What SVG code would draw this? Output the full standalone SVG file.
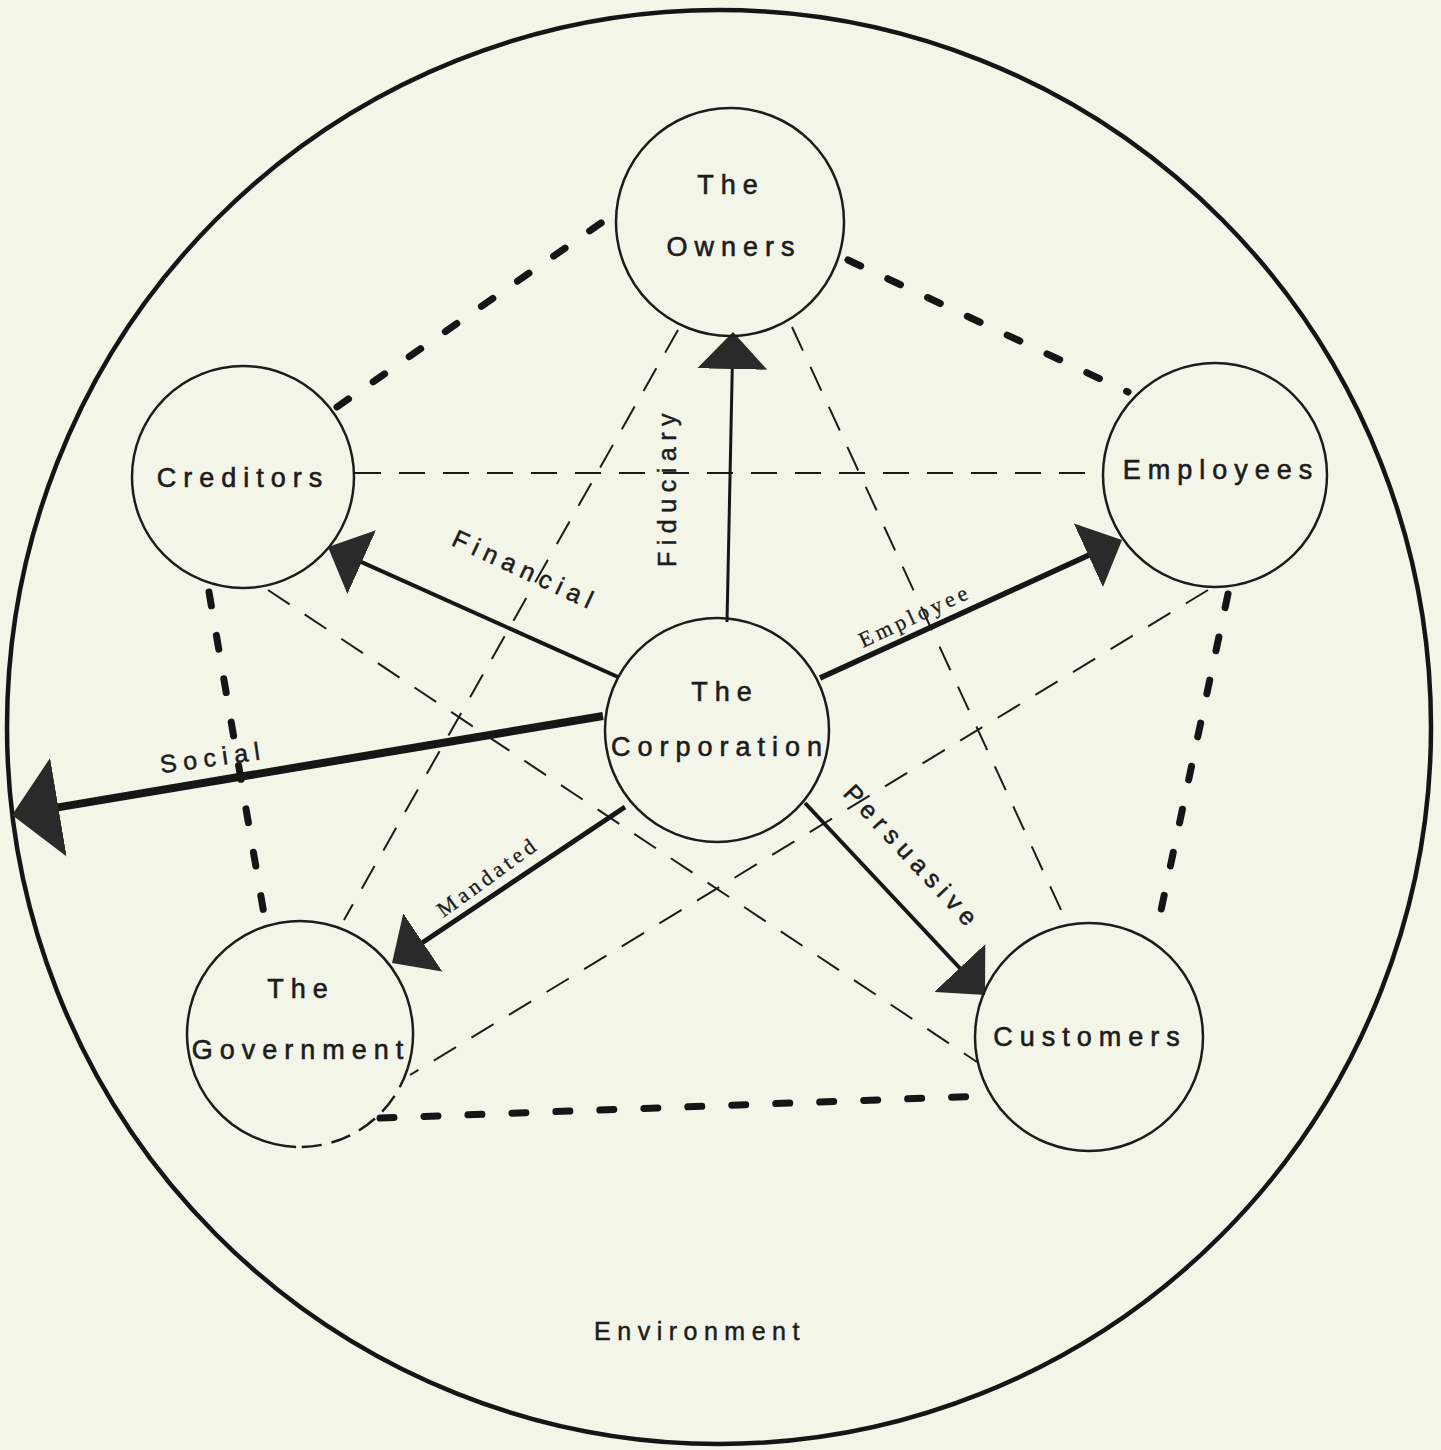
<svg xmlns="http://www.w3.org/2000/svg" width="1441" height="1450" viewBox="0 0 1441 1450">
<style>
.bg{fill:#f3f5e9}
.env{fill:none;stroke:#151515;stroke-width:4.5}
.node{fill:none;stroke:#1c1c1c;stroke-width:2.5}
.lbl{font-family:"Liberation Sans",Arial,sans-serif;font-size:27px;letter-spacing:7px;fill:#1c1c1c;stroke:#1c1c1c;stroke-width:0.6;text-anchor:middle}
.al{font-family:"Liberation Sans",Arial,sans-serif;font-size:25px;letter-spacing:6.5px;fill:#1c1c1c;stroke:#1c1c1c;stroke-width:0.5;text-anchor:middle}
.as{font-family:"Liberation Serif","Times New Roman",serif;font-size:22px;letter-spacing:4px;fill:#1c1c1c;stroke:#1c1c1c;stroke-width:0.3;text-anchor:middle}
.thick{fill:none;stroke:#151515;stroke-width:7;stroke-linecap:round;stroke-dasharray:14 30}
.thin{fill:none;stroke:#1c1c1c;stroke-width:2;stroke-dasharray:26 18}
.arr{fill:none;stroke:#161616;marker-end:url(#ah)}
</style>
<defs>
<marker id="ah" markerUnits="userSpaceOnUse" viewBox="0 0 37 70" refX="2" refY="35" markerWidth="37" markerHeight="70" orient="auto">
<path d="M0,0 L37,35 L0,70 Z" fill="#2a2a2a"/>
</marker>
<marker id="ahb" markerUnits="userSpaceOnUse" viewBox="0 0 47 100" refX="2" refY="50" markerWidth="47" markerHeight="100" orient="auto">
<path d="M0,0 L47,50 L0,100 Z" fill="#2a2a2a"/>
</marker>
</defs>
<rect class="bg" x="0" y="0" width="1441" height="1450"/>
<g id="environment">
<ellipse class="env" cx="719" cy="727" rx="712" ry="717"/>
<text class="al" x="700" y="1340">Environment</text>
</g>
<g id="connectors">
<line class="thin" x1="355" y1="473" x2="1103" y2="473"/>
<line class="thin" x1="678" y1="330" x2="344" y2="920"/>
<line class="thin" x1="792" y1="327" x2="1068" y2="925"/>
<line class="thin" x1="1208" y1="590" x2="410" y2="1075"/>
<line class="thin" x1="268" y1="590" x2="977" y2="1062"/>
<line class="thick" x1="337" y1="407" x2="614" y2="214"/>
<line class="thick" x1="848" y1="260" x2="1128" y2="392"/>
<line class="thick" x1="209" y1="592" x2="265" y2="920"/>
<line class="thick" x1="1228" y1="594" x2="1156" y2="934"/>
<line class="thick" x1="380" y1="1118" x2="985" y2="1096"/>
<line class="arr" stroke-width="3" x1="727" y1="622" x2="732.3" y2="367"/>
<line class="arr" stroke-width="4" x1="618" y1="677" x2="359.9" y2="561.3"/>
<line class="arr" stroke-width="5.5" x1="820" y1="678" x2="1090.2" y2="554.5"/>
<line class="arr" stroke-width="8" style="marker-end:url(#ahb)" x1="603" y1="716" x2="56.4" y2="807.6"/>
<line class="arr" stroke-width="5" x1="625" y1="807" x2="421.1" y2="943.5"/>
<line class="arr" stroke-width="4" x1="805" y1="803" x2="961.1" y2="969.5"/>
<text class="al" transform="translate(667,487) rotate(-90)" x="0" y="9">Fiduciary</text>
<text class="al" transform="translate(526,570) rotate(25)" x="0" y="9">Financial</text>
<text class="al" transform="translate(213,757) rotate(-8)" x="0" y="9">Social</text>
<text class="as" transform="translate(915,616) rotate(-25)" x="0" y="7">Employee</text>
<text class="as" transform="translate(488,877) rotate(-36)" x="0" y="7">Mandated</text>
<text class="al" transform="translate(913,857) rotate(47)" x="0" y="9">Persuasive</text>
</g>
<g id="owners">
<circle class="node" cx="730" cy="222" r="114"/>
<text class="lbl" x="731" y="194">The</text>
<text class="lbl" x="734" y="256">Owners</text>
</g>
<g id="creditors">
<circle class="node" cx="243" cy="477" r="111"/>
<text class="lbl" x="243" y="487">Creditors</text>
</g>
<g id="employees">
<circle class="node" cx="1215" cy="475" r="112"/>
<text class="lbl" x="1221" y="479">Employees</text>
</g>
<g id="corporation">
<circle class="node" cx="717" cy="730" r="112"/>
<text class="lbl" x="725" y="701">The</text>
<text class="lbl" x="720" y="756">Corporation</text>
</g>
<g id="government">
<path class="node" d="M296.1,1146.9 A113,113 0 1 1 407.5,1068.9"/>
<path class="node" stroke-dasharray="20 10" d="M407.5,1068.9 A113,113 0 0 1 296.1,1146.9"/>
<text class="lbl" x="301" y="998">The</text>
<text class="lbl" x="301" y="1059">Government</text>
</g>
<g id="customers">
<circle class="node" cx="1089" cy="1037" r="114"/>
<text class="lbl" x="1090" y="1046">Customers</text>
</g>
</svg>
